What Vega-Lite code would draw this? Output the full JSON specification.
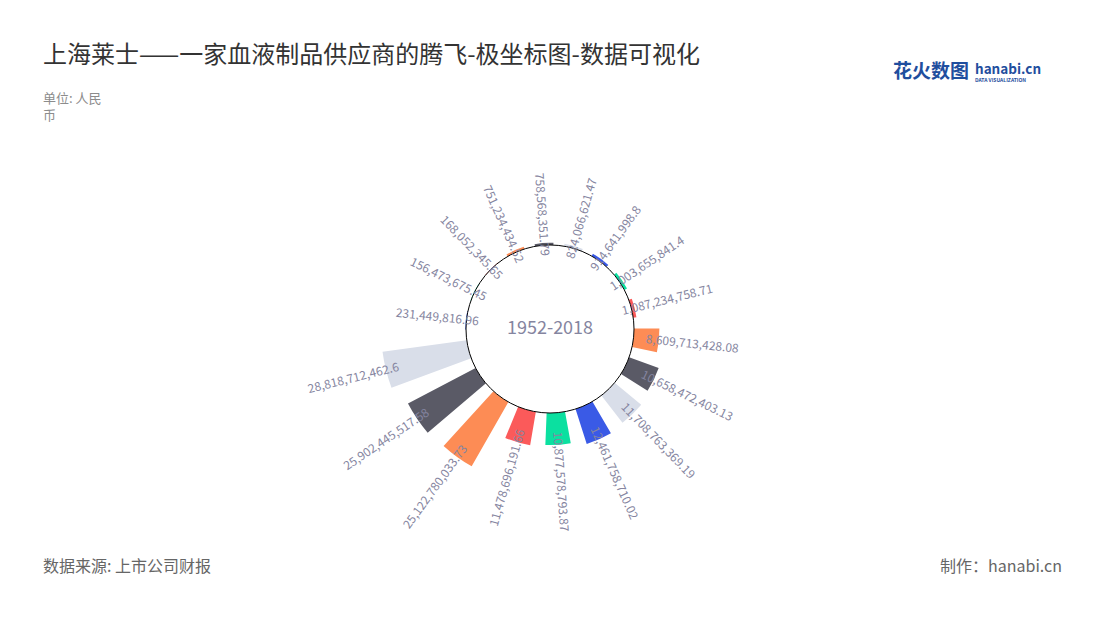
{
  "$schema": "https://vega.github.io/schema/vega-lite/v6.json",
  "width": 1100,
  "height": 582,
  "autosize": {"type": "none"},
  "padding": {"top": 38, "left": 0, "right": 0, "bottom": 0},
  "background": "#ffffff",
  "config": {"view": {"stroke": null}, "font": "Noto Sans CJK SC"},
  "title": {
    "text": "上海莱士——一家血液制品供应商的腾飞-极坐标图-数据可视化",
    "subtitle": ["单位: 人民", "币"],
    "anchor": "start",
    "frame": "group",
    "dx": 43,
    "offset": -85,
    "font": "Noto Sans CJK SC",
    "fontSize": 24,
    "fontWeight": "normal",
    "color": "#333333",
    "subtitleFont": "Noto Sans CJK SC",
    "subtitleFontSize": 13,
    "subtitleColor": "#8c8c8c",
    "subtitleLineHeight": 17,
    "subtitlePadding": 25
  },
  "data": {
    "values": [
      {"idx": 0, "value": 758568351.79},
      {"idx": 1, "value": 824066621.47},
      {"idx": 2, "value": 914641998.8},
      {"idx": 3, "value": 1003655841.4},
      {"idx": 4, "value": 1087234758.71},
      {"idx": 5, "value": 8609713428.08},
      {"idx": 6, "value": 10658472403.13},
      {"idx": 7, "value": 11708763369.19},
      {"idx": 8, "value": 12461758710.02},
      {"idx": 9, "value": 10877578793.87},
      {"idx": 10, "value": 11478696191.66},
      {"idx": 11, "value": 25122780033.73},
      {"idx": 12, "value": 25902445517.58},
      {"idx": 13, "value": 28818712462.6},
      {"idx": 14, "value": 231449816.96},
      {"idx": 15, "value": 156473675.45},
      {"idx": 16, "value": 168052345.65},
      {"idx": 17, "value": 751234434.52}
    ]
  },
  "resolve": {"scale": {"angle": "independent"}},
  "layer": [
    {
      "mark": {"type": "arc"},
      "encoding": {
        "theta": {
          "field": "idx",
          "type": "ordinal",
          "scale": {"type": "band", "range": [-0.24435, 6.03884], "paddingInner": 0.37, "paddingOuter": 0.185}
        },
        "radius": {
          "field": "value",
          "type": "quantitative",
          "scale": {"type": "linear", "domain": [0, 28818712462.6], "range": [84, 169], "nice": false, "zero": true}
        },
        "radius2": {"datum": 0},
        "color": {
          "field": "idx",
          "type": "nominal",
          "scale": {"range": ["#5a5a66", "#d9dee9", "#3a5ae6", "#0be0a0", "#fb5a5a", "#fd8c55"]},
          "legend": null
        }
      }
    },
    {
      "data": {"values": [{}]},
      "mark": {"type": "arc", "theta": 0, "theta2": 6.2832, "fill": "#ffffff", "stroke": "#000000", "strokeWidth": 1},
      "encoding": {
        "radius": {"datum": 0, "type": "quantitative"},
        "radius2": {"value": 0}
      }
    },
    {
      "transform": [{"filter": "datum.idx >= 1 && datum.idx <= 9"}],
      "mark": {"type": "text", "align": "left", "baseline": "middle", "radiusOffset": -13, "fontSize": 12, "color": "#8585a0"},
      "encoding": {
        "theta": {"field": "idx", "type": "ordinal", "bandPosition": 0.5, "scale": {"type": "band"}},
        "radius": {"field": "value", "type": "quantitative"},
        "angle": {"field": "idx", "type": "quantitative", "scale": {"domain": [0, 17], "range": [-94, 246]}},
        "text": {"field": "value", "type": "quantitative", "format": ",.2~f"}
      }
    },
    {
      "transform": [{"filter": "datum.idx == 0 || datum.idx >= 10"}],
      "mark": {"type": "text", "align": "right", "baseline": "middle", "radiusOffset": -13, "fontSize": 12, "color": "#8585a0"},
      "encoding": {
        "theta": {"field": "idx", "type": "ordinal", "bandPosition": 0.5, "scale": {"type": "band"}},
        "radius": {"field": "value", "type": "quantitative"},
        "angle": {"field": "idx", "type": "quantitative", "scale": {"domain": [0, 17], "range": [86, 426]}},
        "text": {"field": "value", "type": "quantitative", "format": ",.2~f"}
      }
    },
    {
      "data": {"values": [{}]},
      "mark": {"type": "text", "text": "1952-2018", "fontSize": 18, "color": "#8585a0", "align": "center", "baseline": "middle"},
      "encoding": {}
    },
    {
      "data": {"values": [{}]},
      "mark": {"type": "text", "text": "数据来源: 上市公司财报", "x": 43, "y": 529, "align": "left", "baseline": "middle", "fontSize": 16, "color": "#666666"},
      "encoding": {}
    },
    {
      "data": {"values": [{}]},
      "mark": {"type": "text", "text": "制作：hanabi.cn", "x": 1062, "y": 529, "align": "right", "baseline": "middle", "fontSize": 16, "color": "#666666"},
      "encoding": {}
    },
    {
      "data": {"values": [{}]},
      "mark": {"type": "text", "text": "花火数图", "x": 893, "y": 34, "align": "left", "baseline": "middle", "fontSize": 19, "fontWeight": "bold", "color": "#1f4e9e"},
      "encoding": {}
    },
    {
      "data": {"values": [{}]},
      "mark": {"type": "text", "text": "hanabi.cn", "x": 975, "y": 32, "align": "left", "baseline": "middle", "fontSize": 13.5, "fontWeight": "bold", "color": "#1f4e9e"},
      "encoding": {}
    },
    {
      "data": {"values": [{}]},
      "mark": {"type": "text", "text": "DATA VISUALIZATION", "x": 975, "y": 42, "align": "left", "baseline": "middle", "fontSize": 5, "fontWeight": "bold", "color": "#1f4e9e"},
      "encoding": {}
    }
  ]
}
